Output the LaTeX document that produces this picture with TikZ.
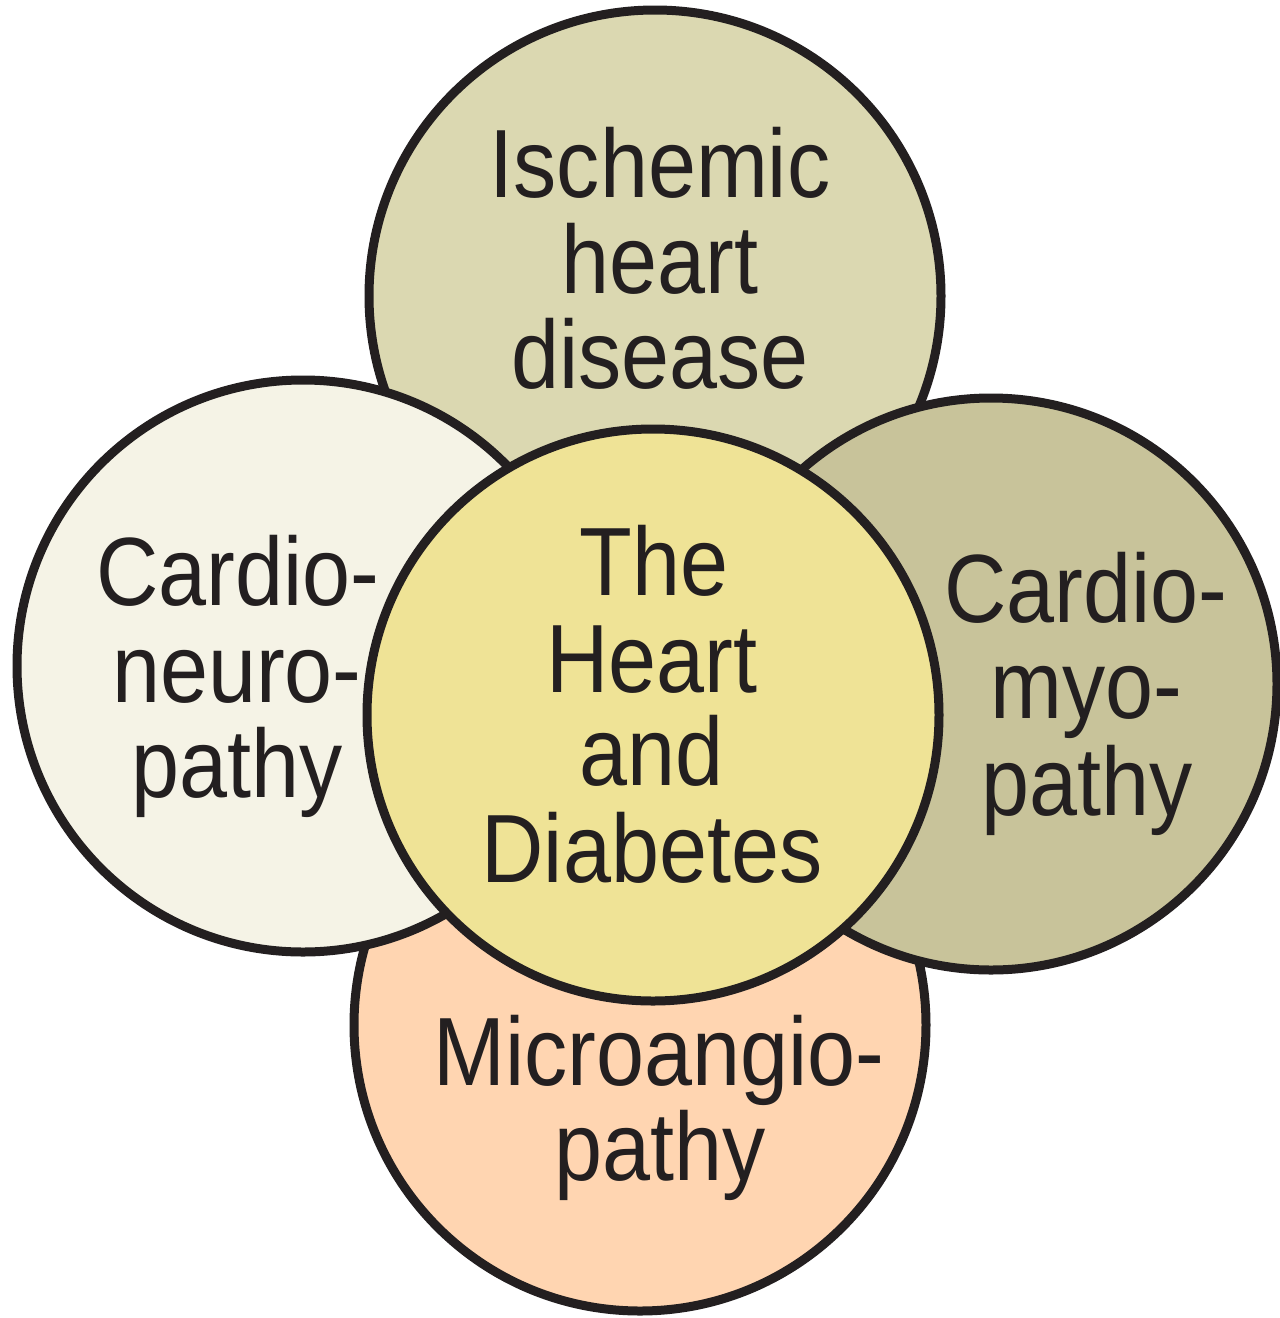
\documentclass[tikz,border=0pt]{standalone}
\usepackage{fontspec}
\setmainfont[FakeStretch=0.89]{Liberation Sans}
\definecolor{edge}{HTML}{231F20}
\definecolor{ctop}{HTML}{DBD8B1}
\definecolor{cleft}{HTML}{F5F3E6}
\definecolor{cright}{HTML}{C8C39A}
\definecolor{cbot}{HTML}{FFD5B1}
\definecolor{cmid}{HTML}{EFE396}
\begin{document}
\begin{tikzpicture}[x=1pt,y=-1pt,
  circ/.style={circle,draw=edge,line width=9pt,minimum size=572pt,inner sep=0pt},
  lbl/.style={anchor=base,inner sep=0pt,text=edge,font=\fontsize{97}{96}\selectfont}]
\useasboundingbox (0,0) rectangle (1280,1318);
\begin{scope}
\clip (0,0) rectangle (1280,1318);
\node[circ,fill=ctop]   (top)   at (655,296)  {};
\node[circ,fill=cbot]   (bot)   at (640,1025) {};
\node[circ,fill=cleft]  (left)  at (303,666)  {};
\node[circ,fill=cright] (right) at (991,684)  {};
\node[circ,fill=cmid]   (mid)   at (653,715)  {};
\end{scope}
% top
\node[lbl] (top1) at (660,197) {Ischemic};
\node[lbl] (top2) at (660,293) {heart};
\node[lbl] (top3) at (660,388) {disease};
% centre
\node[lbl] (mid1) at (654,595) {The};
\node[lbl] (mid2) at (652,692) {Heart};
\node[lbl] (mid3) at (652,785) {and};
\node[lbl] (mid4) at (652,882) {Diabetes};
% left
\node[lbl] (left1) at (238,605) {Cardio-};
\node[lbl] (left2) at (237,702) {neuro-};
\node[lbl] (left3) at (237,797) {pathy};
% right
\node[lbl] (right1) at (1086,622) {Cardio-};
\node[lbl] (right2) at (1086,718) {myo-};
\node[lbl] (right3) at (1087,815) {pathy};
% bottom
\node[lbl] (bot1) at (659,1085) {Microangio-};
\node[lbl] (bot2) at (660,1180) {pathy};
\end{tikzpicture}
\end{document}
